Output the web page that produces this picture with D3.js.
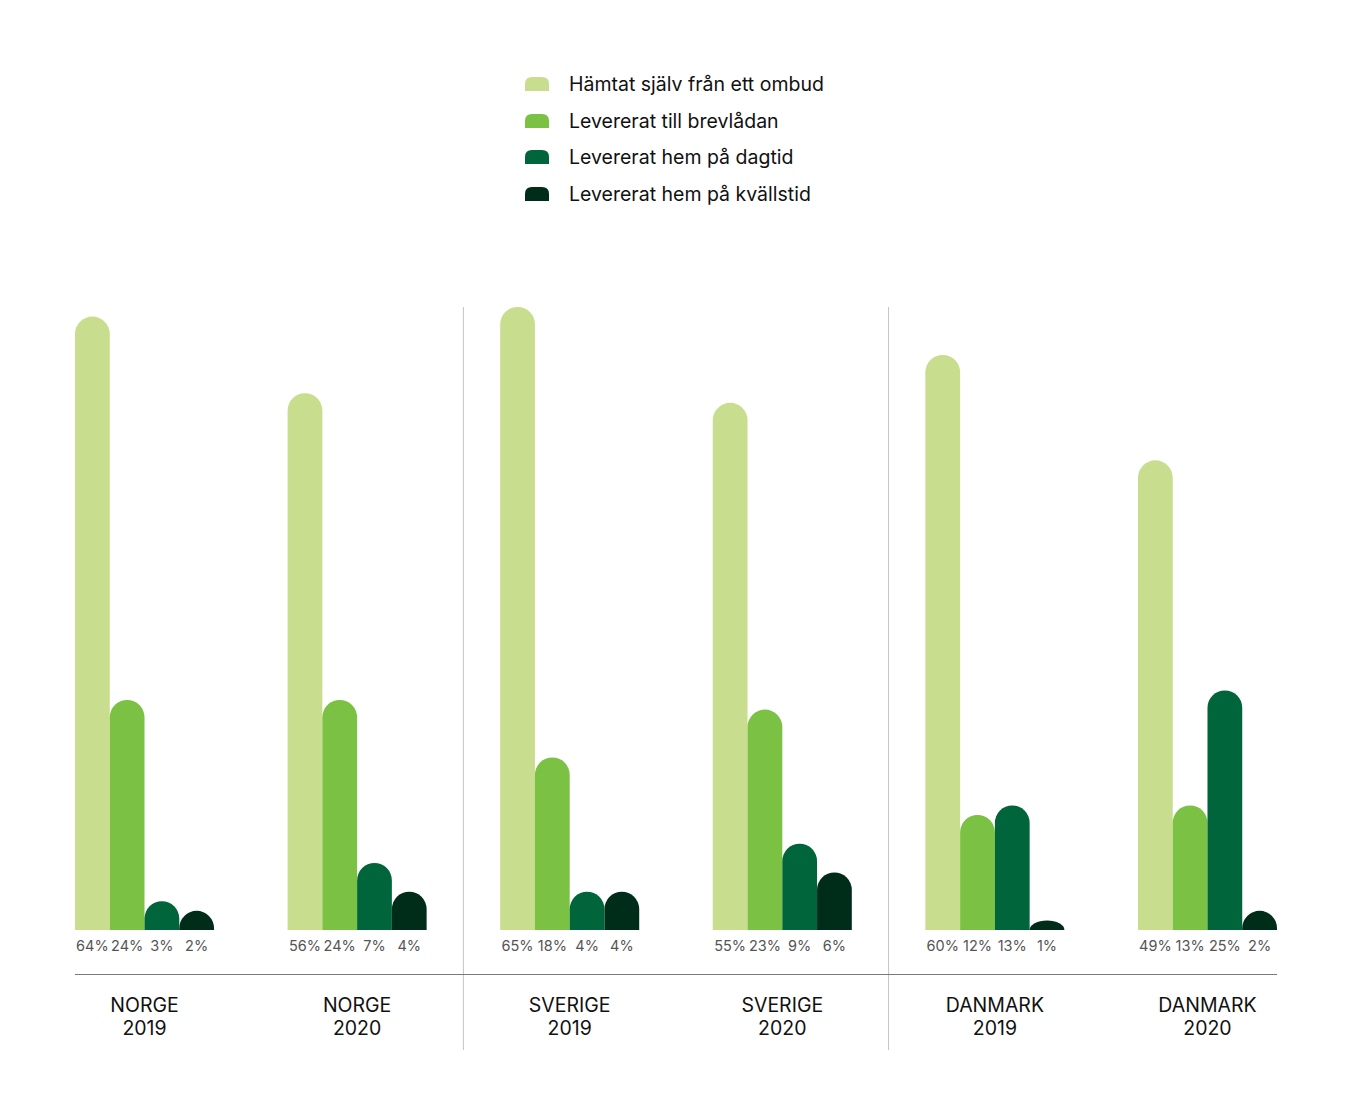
<!DOCTYPE html>
<html><head><meta charset="utf-8">
<script src="https://cdn.jsdelivr.net/npm/d3@7"></script>
<style>body{margin:0;background:#fff;} svg{display:block;}</style>
</head><body>
<svg id="c" width="1352" height="1113"></svg>
<script>
const groups = ["NORGE|2019","NORGE|2020","SVERIGE|2019","SVERIGE|2020","DANMARK|2019","DANMARK|2020"];
const series = ["Hämtat själv från ett ombud","Levererat till brevlådan","Levererat hem på dagtid","Levererat hem på kvällstid"];
const colors = ["#c8dd8d","#7bc144","#00653b","#002d1a"];
const hamtat   = [64,56,65,55,60,49];
const brevlada = [24,24,18,23,12,13];
const dagtid   = [3,7,4,9,13,25];
const kvall    = [2,4,4,6,1,2];
const valueRows = [hamtat,brevlada,dagtid,kvall];
const separatorsAfter = [1,3];

const svg = d3.select("#c");
const font = "Inter, 'Noto Sans', sans-serif";

const x0 = d3.scaleBand().domain(groups).range([75,1277]).paddingInner(0.346).paddingOuter(0);
const x1 = d3.scaleBand().domain(series).range([0,x0.bandwidth()]).padding(0);
const y = d3.scaleLinear().domain([0,65]).range([930,307]);

function barPath(x, w, v){
  const y0 = y(0), yt = y(v), h = y0 - yt, r = w/2;
  const ry = Math.min(r, h);
  return `M${x},${y0}L${x},${yt+ry}A${r},${ry} 0 0 1 ${x+w},${yt+ry}L${x+w},${y0}Z`;
}

separatorsAfter.forEach(i=>{
  const xs = (x0(groups[i]) + x0.bandwidth() + x0(groups[i+1]))/2;
  svg.append("line").attr("x1",xs).attr("x2",xs).attr("y1",307).attr("y2",1050)
    .attr("stroke","#c4c4c4").attr("stroke-width",1);
});

svg.append("line").attr("x1",75).attr("x2",1277).attr("y1",974.5).attr("y2",974.5)
  .attr("stroke","#7a7a7a").attr("stroke-width",1.2);

groups.forEach((g,gi)=>{
  const gx = x0(g);
  const gEl = svg.append("g").attr("transform",`translate(${gx},0)`);
  series.forEach((s,si)=>{
    const v = valueRows[si][gi];
    gEl.append("path").attr("d",barPath(x1(s),x1.bandwidth(),v)).attr("fill",colors[si]);
    gEl.append("text").attr("x",x1(s)+x1.bandwidth()/2).attr("y",950.5)
      .attr("text-anchor","middle").attr("font-family",font).attr("font-size",14.5)
      .attr("fill","#555").text(v+"%");
  });
  const [name,year] = g.split("|");
  const t = gEl.append("text").attr("text-anchor","middle").attr("font-family",font)
    .attr("font-size",19.5).attr("fill","#111");
  t.append("tspan").attr("x",x0.bandwidth()/2).attr("y",1012).text(name);
  t.append("tspan").attr("x",x0.bandwidth()/2).attr("y",1035).text(year);
});

const lg = svg.append("g");
const rowsY = [84,121,157,194];
series.forEach((s,i)=>{
  const cy = rowsY[i];
  const sx=525, sw=24, top=cy-7, bot=cy+7, r=7;
  lg.append("path").attr("d",`M${sx},${bot}L${sx},${top+r}Q${sx},${top} ${sx+r},${top}L${sx+sw-r},${top}Q${sx+sw},${top} ${sx+sw},${top+r}L${sx+sw},${bot}Z`)
    .attr("fill",colors[i]);
  lg.append("text").attr("x",569).attr("y",cy+7).attr("font-family",font).attr("font-size",19.5)
    .attr("fill","#111").text(s);
});
</script>
</body></html>
